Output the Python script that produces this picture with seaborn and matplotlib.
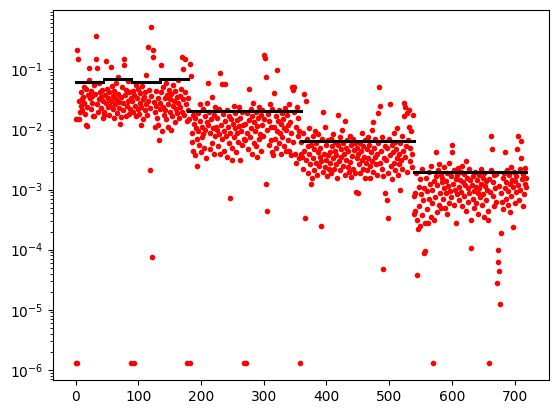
import numpy as np
import pandas as pd
import matplotlib
matplotlib.use("Agg")
import matplotlib.pyplot as plt
import seaborn as sns

# log10 of the error per sample, 4 blocks of 180 samples (4 chunks of 45 each)
log_err_block1 = [
    -5.89, -1.83, -5.89, -0.68, -0.82, -1.53, -1.83, -1.70, -1.38, -1.60, -1.50, -1.68, -1.46, -1.30, -1.56,
    -1.74, -1.33, -1.92, -1.63, -1.94, -1.43, -1.18, -0.98, -1.48, -1.66, -1.36, -1.55, -1.44, -1.78, -1.78,
    -1.26, -1.41, -0.45, -0.82, -0.97, -1.58, -1.70, -1.50, -1.23, -1.38, -1.64, -1.46, -1.35, -1.80, -1.53,
    -1.70, -1.76, -1.43, -1.56, -0.86, -1.33, -1.63, -1.48, -1.76, -1.38, -1.60, -0.96, -1.52, -1.28, -1.66,
    -1.44, -1.80, -1.36, -1.58, -1.23, -1.50, -1.72, -1.41, -1.13, -1.64, -1.54, -1.90, -1.46, -1.79, -1.30,
    -1.68, -1.56, -0.82, -0.92, -1.42, -1.78, -1.34, -1.60, -1.20, -1.52, -1.74, -1.38, -1.66, -1.48, -5.89,
    -1.53, -1.36, -1.70, -5.89, -1.43, -1.60, -1.78, -1.26, -1.48, -1.66, -1.33, -1.74, -1.56, -1.40, -1.93,
    -1.63, -1.28, -1.50, -1.83, -1.46, -1.68, -1.38, -1.10, -1.58, -1.76, -0.63, -1.52, -1.34, -1.64, -2.68,
    -1.44, -0.29, -4.12, -0.67, -0.79, -1.54, -1.70, -1.95, -1.36, -1.60, -1.80, -1.48, -1.92, -2.18, -1.66,
    -1.56, -1.38, -0.92, -2.03, -1.63, -1.30, -1.76, -1.48, -1.68, -1.23, -1.83, -1.43, -1.58, -1.96, -1.34,
    -1.70, -1.50, -2.01, -1.41, -1.78, -1.26, -1.60, -1.53, -1.88, -1.36, -1.66, -1.46, -1.73, -1.18, -1.56,
    -1.80, -1.44, -1.63, -1.32, -1.70, -0.79, -0.99, -1.50, -1.76, -1.38, -0.82, -1.58, -1.86, -5.89, -1.48,
]
log_err_block2 = [
    -1.68, -1.82, -5.89, -0.91, -1.11, -2.05, -2.20, -1.75, -2.35, -1.90, -1.80, -2.42, -1.98, -2.60, -2.15,
    -1.72, -2.02, -2.25, -1.85, -1.58, -2.38, -1.95, -2.12, -1.66, -2.08, -2.30, -1.78, -2.00, -2.48, -1.88,
    -1.56, -1.23, -1.92, -1.70, -2.32, -2.05, -1.82, -2.22, -1.46, -1.98, -2.40, -1.76, -2.10, -1.62, -1.96,
    -2.00, -1.80, -2.28, -1.65, -2.08, -2.40, -1.06, -1.92, -2.15, -1.25, -1.74, -2.02, -2.35, -1.86, -1.25,
    -2.10, -1.68, -2.45, -1.95, -1.78, -2.22, -2.05, -3.14, -1.82, -2.30, -2.51, -1.90, -1.60, -2.12, -1.98,
    -1.72, -2.38, -1.84, -2.06, -2.20, -1.62, -1.94, -2.50, -1.80, -2.03, -2.25, -1.70, -1.92, -5.89, -2.15,
    -1.90, -2.18, -5.89, -1.72, -2.05, -2.32, -1.33, -1.84, -2.12, -1.65, -1.98, -2.40, -1.78, -1.55, -2.22,
    -1.88, -2.02, -2.28, -1.70, -2.46, -1.94, -1.80, -2.15, -1.62, -2.08, -1.75, -2.35, -1.92, -1.68, -2.10,
    -1.82, -0.76, -0.81, -1.12, -2.90, -3.36, -2.00, -1.74, -2.25, -1.85, -1.58, -2.18, -1.96, -1.66, -2.38,
    -2.43, -1.40, -1.95, -2.15, -1.78, -2.30, -2.02, -1.01, -1.85, -2.22, -1.68, -2.06, -2.40, -1.90, -1.72,
    -2.12, -1.82, -1.98, -2.28, -1.64, -2.35, -2.00, -1.76, -2.18, -1.92, -1.58, -2.35, -1.88, -2.43, -2.05,
    -1.30, -1.35, -2.20, -1.70, -1.29, -2.40, -1.96, -2.55, -1.62, -2.10, -1.80, -2.48, -2.02, -5.89, -2.40,
]
log_err_block3 = [
    -2.20, -2.45, -2.05, -2.65, -2.35, -1.41, -3.48, -1.52, -2.50, -2.15, -2.72, -2.28, -2.40, -1.98, -2.58,
    -2.90, -2.25, -2.80, -2.10, -2.48, -2.32, -2.68, -2.02, -2.55, -2.22, -2.75, -2.38, -2.08, -2.60, -2.45,
    -2.30, -3.61, -2.52, -2.15, -1.71, -2.70, -2.40, -1.95, -2.62, -2.25, -2.50, -2.78, -2.18, -2.42, -2.65,
    -2.38, -2.55, -2.15, -2.72, -2.28, -2.48, -2.08, -2.65, -2.35, -2.20, -2.58, -2.42, -2.80, -2.25, -1.75,
    -2.52, -2.12, -2.68, -2.32, -2.45, -2.00, -2.60, -2.22, -2.40, -1.85, -2.75, -2.30, -2.50, -2.18, -2.62,
    -2.36, -2.70, -2.10, -2.54, -2.26, -2.79, -2.44, -2.16, -2.66, -2.34, -2.73, -2.22, -3.04, -2.48, -2.30,
    -3.05, -2.40, -2.58, -2.22, -2.72, -2.35, -2.50, -2.05, -2.65, -2.28, -2.45, -2.80, -2.18, -2.55, -2.32,
    -2.68, -2.12, -2.48, -2.25, -2.60, -2.80, -2.38, -2.52, -2.00, -1.88, -2.70, -2.30, -2.45, -2.15, -2.58,
    -2.40, -2.75, -1.72, -2.22, -1.29, -1.60, -2.55, -2.35, -2.65, -2.12, -2.78, -4.33, -2.48, -2.28, -3.06,
    -2.50, -3.18, -2.30, -3.48, -2.72, -2.15, -2.42, -1.57, -2.60, -2.25, -2.82, -2.38, -2.05, -2.55, -2.20,
    -2.68, -2.32, -2.48, -1.98, -2.75, -2.40, -2.58, -3.01, -2.22, -2.50, -2.10, -2.65, -2.35, -1.78, -1.55,
    -2.45, -1.62, -2.28, -2.70, -1.72, -2.18, -1.95, -1.68, -2.52, -2.30, -2.02, -2.40, -2.62, -1.75, -3.40,
]
log_err_block4 = [
    -3.10, -3.05, -3.35, -2.72, -3.50, -4.43, -3.66, -2.95, -3.28, -2.82, -3.60, -3.08, -3.42, -2.65, -3.18,
    -4.05, -2.98, -4.02, -3.55, -2.80, -3.32, -3.02, -3.55, -2.70, -3.15, -2.90, -3.45, -2.60, -3.22, -3.00,
    -5.89, -2.85, -3.50, -3.12, -2.38, -2.78, -3.38, -2.92, -2.68, -3.25, -2.58, -3.05, -2.75, -3.30, -2.88,
    -2.80, -3.15, -2.98, -2.62, -3.30, -2.86, -3.05, -3.40, -2.72, -2.94, -3.22, -2.55, -3.02, -2.78, -3.12,
    -2.26, -2.38, -2.90, -3.25, -2.68, -3.00, -2.82, -3.55, -2.76, -3.08, -2.64, -2.96, -3.18, -2.84, -2.70,
    -3.04, -2.60, -3.28, -2.88, -2.74, -3.10, -2.92, -2.52, -3.35, -2.80, -2.98, -3.20, -2.66, -3.06, -2.84,
    -3.98, -3.50, -2.92, -3.15, -2.78, -3.02, -3.30, -2.70, -2.96, -3.22, -2.84, -3.06, -3.40, -2.76, -2.98,
    -3.12, -2.65, -2.90, -3.25, -2.80, -3.08, -3.45, -2.72, -2.94, -3.18, -2.86, -3.00, -3.35, -3.50, -2.82,
    -5.89, -3.04, -2.68, -2.11, -2.32, -3.10, -2.88, -3.28, -2.76, -2.98, -3.20, -2.74, -4.55, -4.00, -4.20,
    -2.94, -4.36, -4.90, -3.73, -3.06, -3.20, -2.80, -3.32, -2.72, -2.37, -2.98, -3.15, -2.88, -2.68, -3.25,
    -3.02, -2.76, -3.38, -2.90, -2.62, -3.10, -2.84, -2.96, -3.62, -2.70, -3.22, -2.86, -3.04, -2.78, -2.32,
    -2.10, -2.92, -3.18, -2.66, -3.00, -2.48, -2.19, -2.82, -3.28, -2.74, -3.08, -2.90, -2.64, -2.96, -2.80,
]

# mean level drawn as a black bar over each chunk of 45 samples
chunk_size = 45
chunk_means = [0.063, 0.070, 0.063, 0.070,
               0.0202, 0.0202, 0.0202, 0.0202,
               0.0064, 0.0064, 0.0064, 0.0064,
               0.00199, 0.00199, 0.00199, 0.00199]

x_ticks = [0, 100, 200, 300, 400, 500, 600, 700]
y_ticks = [1e-6, 1e-5, 1e-4, 1e-3, 1e-2, 1e-1]

log_err = np.concatenate([log_err_block1, log_err_block2, log_err_block3, log_err_block4])
pts = pd.DataFrame({"idx": np.arange(len(log_err)), "err": 10.0 ** log_err})

seg_rows = []
for k, m in enumerate(chunk_means):
    seg_rows.append({"idx": k * chunk_size, "err": m, "chunk": k})
    seg_rows.append({"idx": (k + 1) * chunk_size - 1, "err": m, "chunk": k})
segs = pd.DataFrame(seg_rows)

fig = plt.figure(figsize=(5.59, 4.13), dpi=100)
ax = fig.add_axes([53 / 559, 33 / 413, 496 / 559, 370 / 413])

sns.scatterplot(data=pts, x="idx", y="err", color="red", s=16, linewidth=0, ax=ax, zorder=2)
sns.lineplot(data=segs, x="idx", y="err", units="chunk", estimator=None,
             color="black", linewidth=2.2, ax=ax, zorder=3)

ax.set_yscale("log")
ax.set_yticks(y_ticks)
ax.set_xticks(x_ticks)
ax.xaxis.label.set_visible(False)
ax.yaxis.label.set_visible(False)

fig.savefig("out.png", dpi=100)
